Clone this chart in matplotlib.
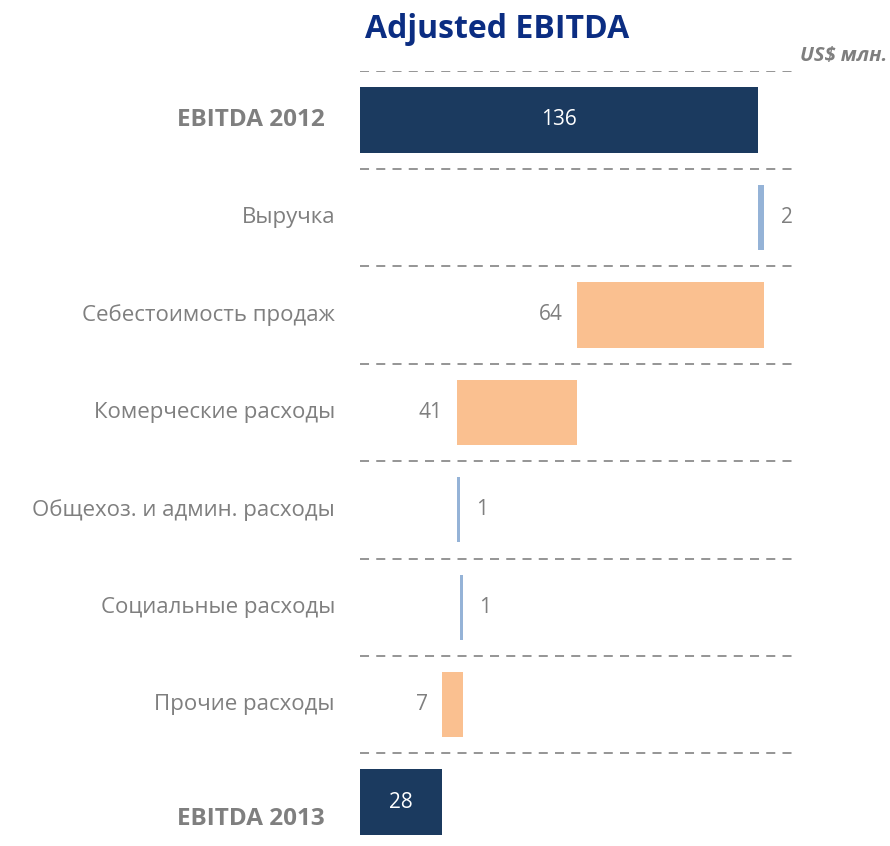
import matplotlib.pyplot as plt
from matplotlib.transforms import blended_transform_factory

# данные (US$ млн.)
kategorie = ['EBITDA 2012', 'Выручка', 'Себестоимость продаж', 'Комерческие расходы',
             'Общехоз. и админ. расходы', 'Социальные расходы', 'Прочие расходы', 'EBITDA 2013']
zmiany = [136, 2, -64, -41, 1, 1, -7, 28]
sumy = [True, False, False, False, False, False, False, True]

kolor_suma = '#1B3A5F'
kolor_plus = '#95B3D7'
kolor_minus = '#FAC090'
szary = '#7F7F7F'

plt.rcParams['font.family'] = ['Open Sans', 'DejaVu Sans']

fig = plt.figure(figsize=(8.9, 8.46), dpi=100)
ax = fig.add_axes([360 / 890, 0, 435 / 890, (846 - 71.25) / 846])

poziom = 0
for i, (nazwa, v, s) in enumerate(zip(kategorie, zmiany, sumy)):
    if s:
        lewy, szer, kol = 0, v, kolor_suma
        poziom = v
    else:
        lewy = poziom if v > 0 else poziom + v
        szer = abs(v)
        kol = kolor_plus if v > 0 else kolor_minus
        poziom += v
    ax.barh(i, szer, left=lewy, height=0.67, color=kol, edgecolor='none')

    if s:
        ax.text(lewy + szer / 2, i, str(v), ha='center', va='center',
                color='white', fontsize=15)
    elif v > 0:
        ax.annotate(str(abs(v)), (lewy + szer, i), xytext=(12, 0), textcoords='offset points',
                    ha='left', va='center', color=szary, fontsize=15)
    else:
        ax.annotate(str(abs(v)), (lewy, i), xytext=(-10, 0), textcoords='offset points',
                    ha='right', va='center', color=szary, fontsize=15)

# podpisy kategorii
tr = blended_transform_factory(ax.transAxes, ax.transData)
for i, (nazwa, s) in enumerate(zip(kategorie, sumy)):
    if s:
        dy = 0.17 if i == len(kategorie) - 1 else 0
        ax.text(-35 / 435, i + dy, nazwa, transform=tr, ha='right', va='center',
                color=szary, fontsize=17.5, fontweight='bold')
    else:
        ax.text(-25 / 435, i, nazwa, transform=tr, ha='right', va='center',
                color=szary, fontsize=16)

# przerywane linie
for i in range(len(kategorie)):
    ax.axhline(i - 0.5, color='#8C8C8C', lw=1.3, ls=(0, (5, 4)))

ax.set_xlim(0, 435 / 2.93)
ax.set_ylim(len(kategorie) - 0.55, -0.5)
ax.axis('off')

fig.text(497 / 890, 1 - 29 / 846, 'Adjusted EBITDA', ha='center', va='center',
         fontsize=23, fontweight='bold', color='#0B2D82')
fig.text(887 / 890, 1 - 56 / 846, 'US$ млн.', ha='right', va='center',
         fontsize=14.5, fontweight='bold', fontstyle='italic', color=szary)

plt.savefig('out.png')
